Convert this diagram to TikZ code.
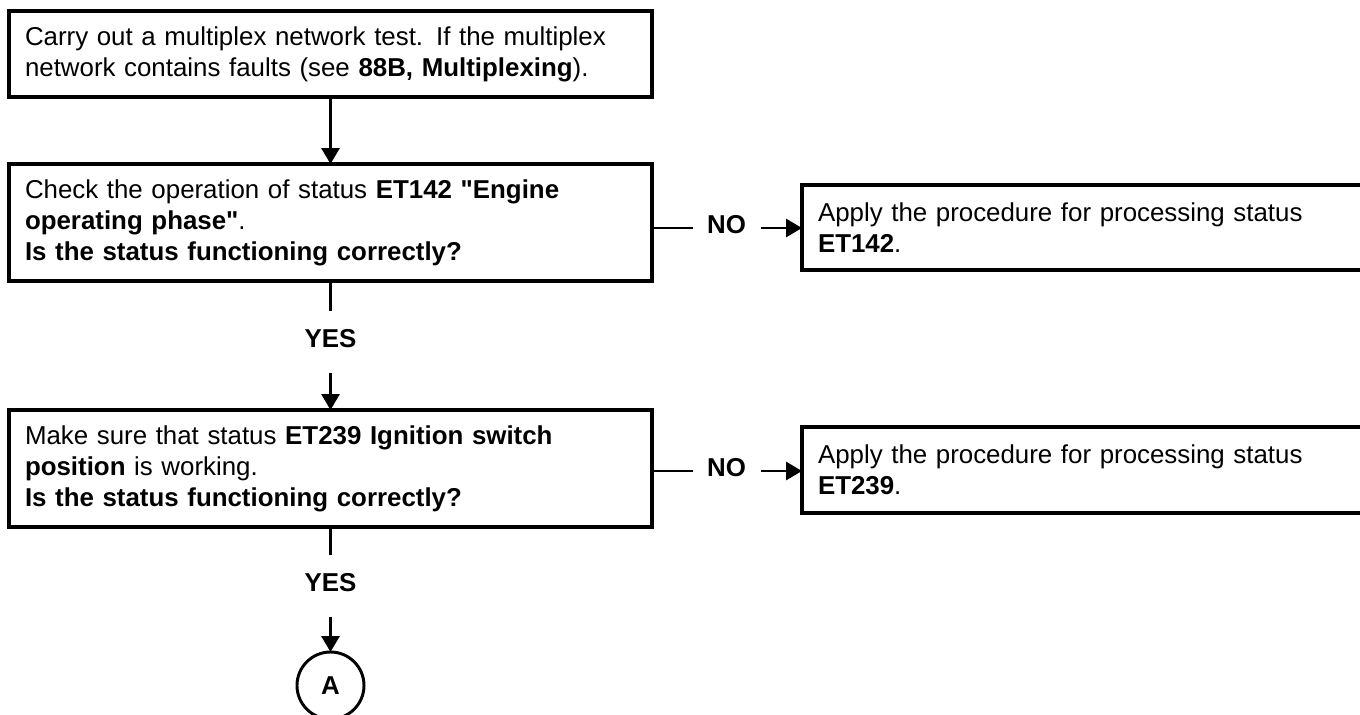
\documentclass[tikz,border=0pt]{standalone}
\usepackage{fontspec}
\setmainfont{Liberation Sans}[Ligatures=TeXOff]
\usetikzlibrary{arrows.meta}
\newlength\pxu
\setlength\pxu{0.75pt}
\begin{document}
\begin{tikzpicture}[x=0.75pt,y=-0.75pt,
  txt/.style={font=\fontsize{19.4pt}{23.25pt}\selectfont},
  box/.style={txt, draw, line width=2.5pt, rectangle, anchor=north west, outer sep=0pt,
    inner xsep=16\pxu, inner ysep=0pt, align=left, text width=611\pxu},
  sidebox/.style={box, text width=588\pxu},
  lbl/.style={font=\bfseries\fontsize{19.4pt}{23.25pt}\selectfont, inner sep=0pt, outer sep=0pt,
    text height=19\pxu, text depth=8\pxu},
  yeslbl/.style={lbl, minimum height=62\pxu},
  nolbl/.style={lbl, minimum width=68\pxu},
  ln/.style={line width=2.2pt},
  arr/.style={ln, -{Triangle[length=12pt,width=13.5pt]}},
  conn/.style={circle, draw, line width=2.2pt, minimum size=67\pxu, inner sep=0pt, outer sep=0pt,
    font=\bfseries\fontsize{19.4pt}{23.25pt}\selectfont}]
\useasboundingbox (0,0) rectangle (1360,714);
\clip (0,0) rectangle (1360,714);

% main column of steps
\node[box, minimum height=86\pxu] (b1) at (9,11)
  {Carry out a multiplex network test. If the multiplex\\
   network contains faults (see \textbf{88B, Multiplexing}).};
\node[box, minimum height=117\pxu] (b2) at (9,164)
  {Check the operation of status \textbf{ET142 "Engine}\\
   \textbf{operating phase"}.\\
   \textbf{Is the status functioning correctly?}};
\node[box, minimum height=117\pxu] (b3) at (9,410)
  {Make sure that status \textbf{ET239 Ignition switch}\\
   \textbf{position} is working.\\
   \textbf{Is the status functioning correctly?}};

% side actions
\node[sidebox, minimum height=85\pxu] (r1) at (802,185)
  {Apply the procedure for processing status\\ \textbf{ET142}.};
\node[sidebox, minimum height=86\pxu] (r2) at (802,427)
  {Apply the procedure for processing status\\ \textbf{ET239}.};

% branch labels
\node[yeslbl] (y1) at (330.5,342) {YES};
\node[yeslbl] (y2) at (330.5,585.5) {YES};
\node[nolbl] (n1) at (726.5,228) {NO};
\node[nolbl] (n2) at (726.5,471) {NO};

% off-page connector
\node[conn] (A) at (330.5,685.5) {A};

% connectors
\draw[arr] (b1.south) -- (b2.north);
\draw[ln] (b2.south) -- (y1.north);
\draw[arr] (y1.south) -- (b3.north);
\draw[ln] (b3.south) -- (y2.north);
\draw[arr] (y2.south) -- (A.north);
\draw[ln] (b2.east |- n1.west) -- (n1.west);
\draw[arr] (n1.east) -- (n1.east -| r1.west);
\draw[ln] (b3.east |- n2.west) -- (n2.west);
\draw[arr] (n2.east) -- (n2.east -| r2.west);
\end{tikzpicture}
\end{document}
